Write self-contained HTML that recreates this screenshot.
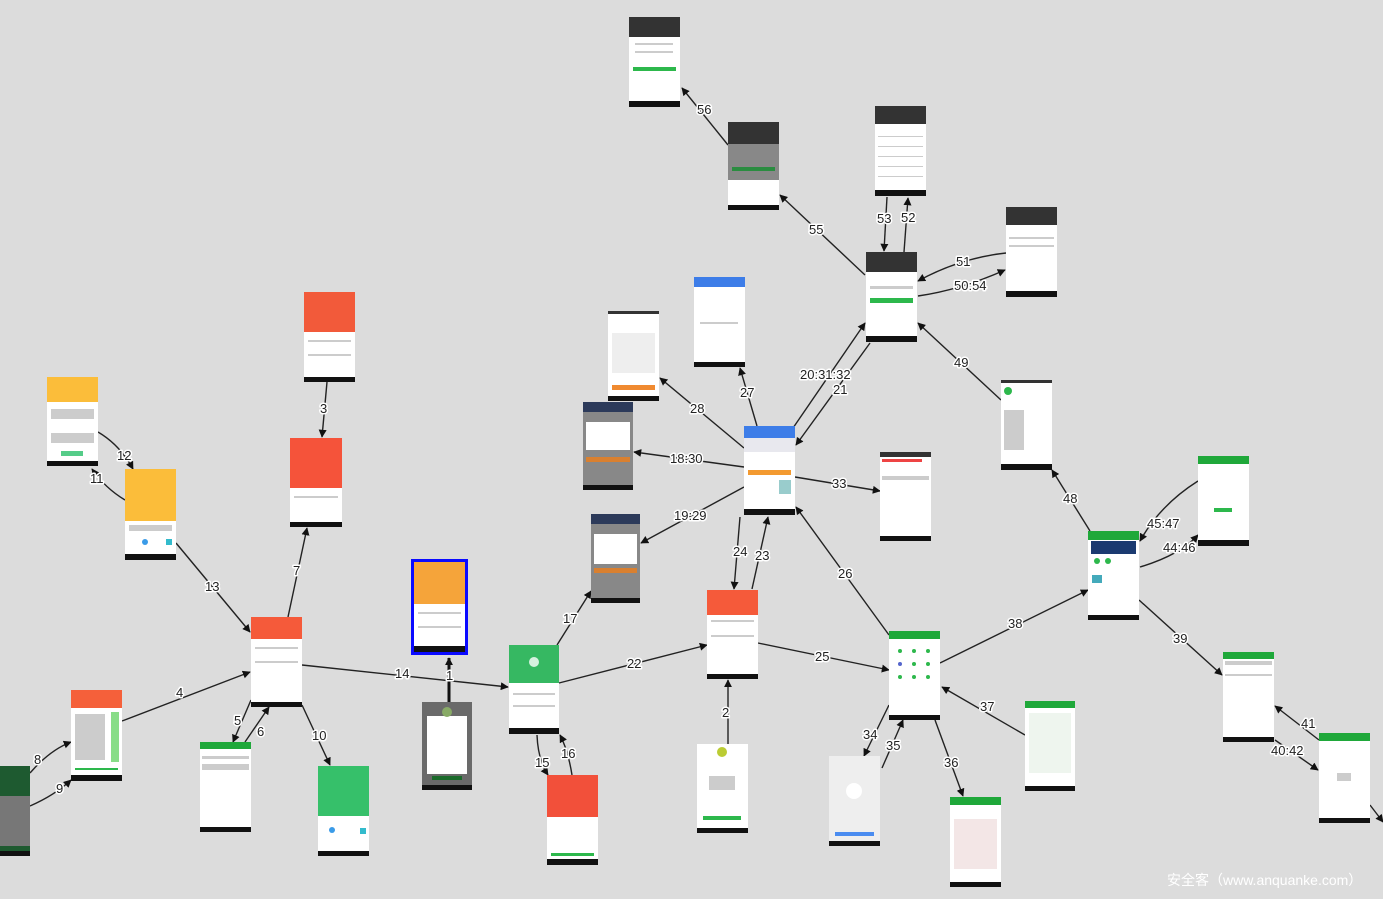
<!DOCTYPE html>
<html><head><meta charset="utf-8"><style>
html,body{margin:0;padding:0;background:#dcdcdc;width:1383px;height:899px;overflow:hidden}
svg{display:block}
.l{font-family:"Liberation Sans",sans-serif;font-size:13px;fill:#222;stroke:#fff;stroke-width:3px;paint-order:stroke;stroke-linejoin:round}
.e{stroke:#222;stroke-width:1.4;fill:none;marker-end:url(#a)}
.w{fill:#fff}.k{fill:#111}.s{fill:#333}.g{fill:#ccc}
</style></head><body>
<svg width="1383" height="899" viewBox="0 0 1383 899" xmlns="http://www.w3.org/2000/svg">
<defs><marker id="a" viewBox="0 0 10 10" refX="9" refY="5" markerWidth="8" markerHeight="8" orient="auto" markerUnits="userSpaceOnUse"><path d="M0,0L10,5L0,10z" fill="#111"/></marker></defs>
<rect width="1383" height="899" fill="#dcdcdc"/>

<path class="e" d="M728,145L682,88"/>
<path class="e" d="M865,275L780,195"/>
<path class="e" d="M887,197L884,251"/>
<path class="e" d="M904,252L908,198"/>
<path class="e" d="M1006,253Q960,258 918,281"/>
<path class="e" d="M918,296Q960,290 1005,270"/>
<path class="e" d="M1001,400L918,323"/>
<path class="e" d="M793,428L865,323"/>
<path class="e" d="M870,343L796,445"/>
<path class="e" d="M757,426L740,368"/>
<path class="e" d="M744,448L660,378"/>
<path class="e" d="M744,467L634,452"/>
<path class="e" d="M795,477L880,491"/>
<path class="e" d="M744,487L641,543"/>
<path class="e" d="M740,517L734,589"/>
<path class="e" d="M752,589L768,517"/>
<path class="e" d="M889,635L796,507"/>
<path class="e" d="M1090,531L1052,470"/>
<path class="e" d="M1198,481Q1160,505 1140,541"/>
<path class="e" d="M1140,567Q1180,555 1198,535"/>
<path class="e" d="M940,663L1088,590"/>
<path class="e" d="M1139,600L1222,675"/>
<path class="e" d="M1319,740L1275,706"/>
<path class="e" d="M1275,740L1318,770"/>
<path class="e" d="M1370,805L1383,822"/>
<path class="e" d="M758,643L889,670"/>
<path class="e" d="M559,683L707,645"/>
<path class="e" d="M557,645L591,591"/>
<path class="e" d="M537,735Q538,760 548,775"/>
<path class="e" d="M572,775Q568,750 560,735"/>
<path class="e" d="M728,744L728,680"/>
<path d="M449,702L449,658" stroke="#111" stroke-width="3" marker-end="url(#a)"/>
<path class="e" d="M302,665L508,687"/>
<path class="e" d="M889,705L864,756"/>
<path class="e" d="M882,768L903,720"/>
<path class="e" d="M935,720L963,796"/>
<path class="e" d="M1025,735L942,687"/>
<path class="e" d="M288,617L307,528"/>
<path class="e" d="M327,382L322,437"/>
<path class="e" d="M98,432Q120,445 133,469"/>
<path class="e" d="M125,500Q105,488 92,469"/>
<path class="e" d="M176,543L250,632"/>
<path class="e" d="M122,721L250,672"/>
<path class="e" d="M251,700L233,742"/>
<path class="e" d="M245,742L269,707"/>
<path class="e" d="M302,705L330,765"/>
<path class="e" d="M30,773Q50,750 71,742"/>
<path class="e" d="M30,806Q55,795 71,780"/>

<g transform="translate(629,17)"><rect class="w" width="51" height="90"/><rect class="s" width="51" height="20"/><rect y="50" x="4" width="43" height="4" fill="#2db84c"/><rect class="g" x="6" y="26" width="38" height="2"/><rect class="g" x="6" y="34" width="38" height="2"/><rect class="k" y="84" width="51" height="6"/></g>
<g transform="translate(728,122)"><rect fill="#888" width="51" height="88"/><rect class="s" width="51" height="22"/><rect y="45" x="4" width="43" height="4" fill="#2a8c40"/><rect class="w" y="58" width="51" height="25"/><rect class="k" y="83" width="51" height="5"/></g>
<g transform="translate(875,106)"><rect class="w" width="51" height="90"/><rect class="s" width="51" height="18"/><rect class="g" x="3" y="30" width="45" height="1"/><rect class="g" x="3" y="40" width="45" height="1"/><rect class="g" x="3" y="50" width="45" height="1"/><rect class="g" x="3" y="60" width="45" height="1"/><rect class="g" x="3" y="70" width="45" height="1"/><rect class="k" y="84" width="51" height="6"/></g>
<g transform="translate(1006,207)"><rect class="w" width="51" height="90"/><rect class="s" width="51" height="18"/><rect class="g" x="3" y="30" width="45" height="2"/><rect class="g" x="3" y="38" width="45" height="2"/><rect class="k" y="84" width="51" height="6"/></g>
<g transform="translate(866,252)"><rect class="w" width="51" height="90"/><rect class="s" width="51" height="20"/><rect y="46" x="4" width="43" height="5" fill="#2db84c"/><rect class="g" x="4" y="34" width="43" height="3"/><rect class="k" y="84" width="51" height="6"/></g>
<g transform="translate(694,277)"><rect class="w" width="51" height="90"/><rect width="51" height="10" fill="#3d7de8"/><rect class="g" x="6" y="45" width="38" height="2"/><rect class="k" y="85" width="51" height="5"/></g>
<g transform="translate(608,311)"><rect class="w" width="51" height="90"/><rect class="s" width="51" height="3"/><rect x="4" y="22" width="43" height="40" fill="#eee"/><rect x="4" y="74" width="43" height="5" fill="#f08a30"/><rect class="k" y="85" width="51" height="5"/></g>
<g transform="translate(583,402)"><rect fill="#888" width="50" height="88"/><rect width="50" height="10" fill="#2c3a5a"/><rect class="w" x="3" y="20" width="44" height="28"/><rect x="3" y="55" width="44" height="5" fill="#d98030"/><rect class="k" y="83" width="50" height="5"/></g>
<g transform="translate(744,426)"><rect class="w" width="51" height="89"/><rect width="51" height="12" fill="#3d7de8"/><rect y="12" width="51" height="14" fill="#e8e8ee"/><rect x="4" y="44" width="43" height="5" fill="#f39a30"/><rect x="35" y="54" width="12" height="14" fill="#9cc"/><rect class="k" y="83" width="51" height="6"/></g>
<g transform="translate(880,452)"><rect class="w" width="51" height="89"/><rect class="s" width="51" height="5"/><rect x="2" y="7" width="40" height="3" fill="#e44"/><rect class="g" x="2" y="24" width="47" height="4"/><rect class="k" y="84" width="51" height="5"/></g>
<g transform="translate(1001,380)"><rect class="w" width="51" height="90"/><rect class="s" width="51" height="3"/><circle cx="7" cy="11" r="4" fill="#2db84c"/><rect class="g" x="3" y="30" width="20" height="40"/><rect class="k" y="84" width="51" height="6"/></g>
<g transform="translate(1198,456)"><rect class="w" width="51" height="90"/><rect width="51" height="8" fill="#1fa83a"/><rect x="16" y="52" width="18" height="4" fill="#2db84c"/><rect class="k" y="84" width="51" height="6"/></g>
<g transform="translate(1088,531)"><rect class="w" width="51" height="89"/><rect width="51" height="9" fill="#1fa83a"/><rect x="3" y="10" width="45" height="13" fill="#1b3a70"/><circle cx="9" cy="30" r="3" fill="#2db84c"/><circle cx="20" cy="30" r="3" fill="#2db84c"/><rect x="4" y="44" width="10" height="8" fill="#4ab"/><rect class="k" y="84" width="51" height="5"/></g>
<g transform="translate(591,514)"><rect fill="#888" width="49" height="89"/><rect width="49" height="10" fill="#2c3a5a"/><rect class="w" x="3" y="20" width="43" height="30"/><rect x="3" y="54" width="43" height="5" fill="#d98030"/><rect class="k" y="84" width="49" height="5"/></g>
<g transform="translate(707,590)"><rect class="w" width="51" height="89"/><rect width="51" height="25" fill="#f55a3a"/><rect class="g" x="4" y="30" width="43" height="2"/><rect class="g" x="4" y="45" width="43" height="2"/><rect class="k" y="84" width="51" height="5"/></g>
<g transform="translate(509,645)"><rect class="w" width="50" height="89"/><rect width="50" height="38" fill="#36b862"/><circle cx="25" cy="17" r="5" fill="#fff" opacity=".8"/><rect class="g" x="4" y="48" width="42" height="2"/><rect class="g" x="4" y="60" width="42" height="2"/><rect class="k" y="83" width="50" height="6"/></g>
<rect x="411" y="559" width="57" height="96" fill="#0a0aff"/>
<g transform="translate(414,562)"><rect class="w" width="51" height="90"/><rect width="51" height="42" fill="#f5a43a"/><rect class="g" x="4" y="50" width="43" height="2"/><rect class="g" x="4" y="64" width="43" height="2"/><rect class="k" y="84" width="51" height="6"/></g>
<g transform="translate(422,702)"><rect fill="#6a6a6a" width="50" height="88"/><rect class="w" x="5" y="14" width="40" height="58"/><circle cx="25" cy="10" r="5" fill="#8a6"/><rect x="10" y="74" width="30" height="4" fill="#1a6a2a"/><rect class="k" y="83" width="50" height="5"/></g>
<g transform="translate(547,775)"><rect class="w" width="51" height="90"/><rect width="51" height="42" fill="#f2503a"/><rect x="4" y="78" width="43" height="3" fill="#2db84c"/><rect class="k" y="84" width="51" height="6"/></g>
<g transform="translate(697,744)"><rect class="w" width="51" height="89"/><circle cx="25" cy="8" r="5" fill="#bc3"/><rect class="g" x="12" y="32" width="26" height="14"/><rect x="6" y="72" width="38" height="4" fill="#2db84c"/><rect class="k" y="84" width="51" height="5"/></g>
<g transform="translate(889,631)"><rect class="w" width="51" height="89"/><rect width="51" height="8" fill="#1fa83a"/><circle cx="11" cy="20" r="2" fill="#2db84c"/><circle cx="25" cy="20" r="2" fill="#2db84c"/><circle cx="39" cy="20" r="2" fill="#2db84c"/><circle cx="11" cy="33" r="2" fill="#56c"/><circle cx="25" cy="33" r="2" fill="#2db84c"/><circle cx="39" cy="33" r="2" fill="#2db84c"/><circle cx="11" cy="46" r="2" fill="#2db84c"/><circle cx="25" cy="46" r="2" fill="#2db84c"/><circle cx="39" cy="46" r="2" fill="#2db84c"/><rect class="k" y="84" width="51" height="5"/></g>
<g transform="translate(829,756)"><rect fill="#eee" width="51" height="90"/><circle cx="25" cy="35" r="8" fill="#fff"/><rect x="6" y="76" width="39" height="4" fill="#4a8cf0"/><rect class="k" y="85" width="51" height="5"/></g>
<g transform="translate(950,797)"><rect class="w" width="51" height="90"/><rect width="51" height="8" fill="#1fa83a"/><rect x="4" y="22" width="43" height="50" fill="#f3e6e6"/><rect class="k" y="85" width="51" height="5"/></g>
<g transform="translate(1025,701)"><rect class="w" width="50" height="90"/><rect width="50" height="7" fill="#1fa83a"/><rect x="4" y="12" width="42" height="60" fill="#eef5ee"/><rect class="k" y="85" width="50" height="5"/></g>
<g transform="translate(1223,652)"><rect class="w" width="51" height="90"/><rect width="51" height="7" fill="#1fa83a"/><rect class="g" x="2" y="9" width="47" height="4"/><rect class="g" x="2" y="22" width="47" height="2"/><rect class="k" y="85" width="51" height="5"/></g>
<g transform="translate(1319,733)"><rect class="w" width="51" height="90"/><rect width="51" height="8" fill="#1fa83a"/><rect class="g" x="18" y="40" width="14" height="8"/><rect class="k" y="85" width="51" height="5"/></g>
<g transform="translate(304,292)"><rect class="w" width="51" height="90"/><rect width="51" height="40" fill="#f25a3a"/><rect class="g" x="4" y="48" width="43" height="2"/><rect class="g" x="4" y="62" width="43" height="2"/><rect class="k" y="85" width="51" height="5"/></g>
<g transform="translate(290,438)"><rect class="w" width="52" height="89"/><rect width="52" height="50" fill="#f5533a"/><rect class="g" x="4" y="58" width="44" height="2"/><rect class="k" y="84" width="52" height="5"/></g>
<g transform="translate(47,377)"><rect class="w" width="51" height="89"/><rect width="51" height="25" fill="#fbbd3a"/><rect class="g" x="4" y="32" width="43" height="10"/><rect class="g" x="4" y="56" width="43" height="10"/><rect x="14" y="74" width="22" height="5" fill="#5c8"/><rect class="k" y="84" width="51" height="5"/></g>
<g transform="translate(125,469)"><rect class="w" width="51" height="91"/><rect width="51" height="52" fill="#fbbd3a"/><rect class="g" x="4" y="56" width="43" height="6"/><circle cx="20" cy="73" r="3" fill="#3a9be8"/><rect x="41" y="70" width="6" height="6" fill="#3bc"/><rect class="k" y="85" width="51" height="6"/></g>
<g transform="translate(251,617)"><rect class="w" width="51" height="90"/><rect width="51" height="22" fill="#f55a3a"/><rect class="g" x="4" y="30" width="43" height="2"/><rect class="g" x="4" y="44" width="43" height="2"/><rect class="k" y="85" width="51" height="5"/></g>
<g transform="translate(71,690)"><rect class="w" width="51" height="91"/><rect width="51" height="18" fill="#f5603a"/><rect x="40" y="22" width="8" height="50" fill="#8d8"/><rect class="g" x="4" y="24" width="30" height="46"/><rect x="4" y="78" width="43" height="2" fill="#2db84c"/><rect class="k" y="85" width="51" height="6"/></g>
<g transform="translate(200,742)"><rect class="w" width="51" height="90"/><rect width="51" height="7" fill="#1fa83a"/><rect class="g" x="2" y="14" width="47" height="3"/><rect class="g" x="2" y="22" width="47" height="6"/><rect class="k" y="85" width="51" height="5"/></g>
<g transform="translate(318,766)"><rect class="w" width="51" height="90"/><rect width="51" height="50" fill="#36c06a"/><circle cx="14" cy="64" r="3" fill="#3a9be8"/><rect x="42" y="62" width="6" height="6" fill="#3bc"/><rect class="k" y="85" width="51" height="5"/></g>
<g transform="translate(0,766)"><rect fill="#1e5a30" width="30" height="90"/><rect fill="#777" y="30" width="30" height="50"/><rect class="k" y="85" width="30" height="5"/></g>

<text class="l" x="697" y="114">56</text>
<text class="l" x="809" y="234">55</text>
<text class="l" x="877" y="223">53</text>
<text class="l" x="901" y="222">52</text>
<text class="l" x="956" y="266">51</text>
<text class="l" x="954" y="290">50:54</text>
<text class="l" x="954" y="367">49</text>
<text class="l" x="800" y="379">20:31:32</text>
<text class="l" x="833" y="394">21</text>
<text class="l" x="740" y="397">27</text>
<text class="l" x="690" y="413">28</text>
<text class="l" x="670" y="463">18:30</text>
<text class="l" x="832" y="488">33</text>
<text class="l" x="674" y="520">19:29</text>
<text class="l" x="733" y="556">24</text>
<text class="l" x="755" y="560">23</text>
<text class="l" x="838" y="578">26</text>
<text class="l" x="1063" y="503">48</text>
<text class="l" x="1147" y="528">45:47</text>
<text class="l" x="1163" y="552">44:46</text>
<text class="l" x="1008" y="628">38</text>
<text class="l" x="1173" y="643">39</text>
<text class="l" x="1301" y="728">41</text>
<text class="l" x="1271" y="755">40:42</text>
<text class="l" x="815" y="661">25</text>
<text class="l" x="627" y="668">22</text>
<text class="l" x="563" y="623">17</text>
<text class="l" x="535" y="767">15</text>
<text class="l" x="561" y="758">16</text>
<text class="l" x="722" y="717">2</text>
<text class="l" x="446" y="680">1</text>
<text class="l" x="395" y="678">14</text>
<text class="l" x="863" y="739">34</text>
<text class="l" x="886" y="750">35</text>
<text class="l" x="944" y="767">36</text>
<text class="l" x="980" y="711">37</text>
<text class="l" x="293" y="575">7</text>
<text class="l" x="320" y="413">3</text>
<text class="l" x="117" y="460">12</text>
<text class="l" x="90" y="483">11</text>
<text class="l" x="205" y="591">13</text>
<text class="l" x="176" y="697">4</text>
<text class="l" x="234" y="725">5</text>
<text class="l" x="257" y="736">6</text>
<text class="l" x="312" y="740">10</text>
<text class="l" x="34" y="764">8</text>
<text class="l" x="56" y="793">9</text>

<text x="1167" y="885" font-family="Liberation Sans, Noto Sans CJK SC, sans-serif" font-size="14" fill="#fff">安全客（www.anquanke.com）</text>
</svg>
</body></html>
